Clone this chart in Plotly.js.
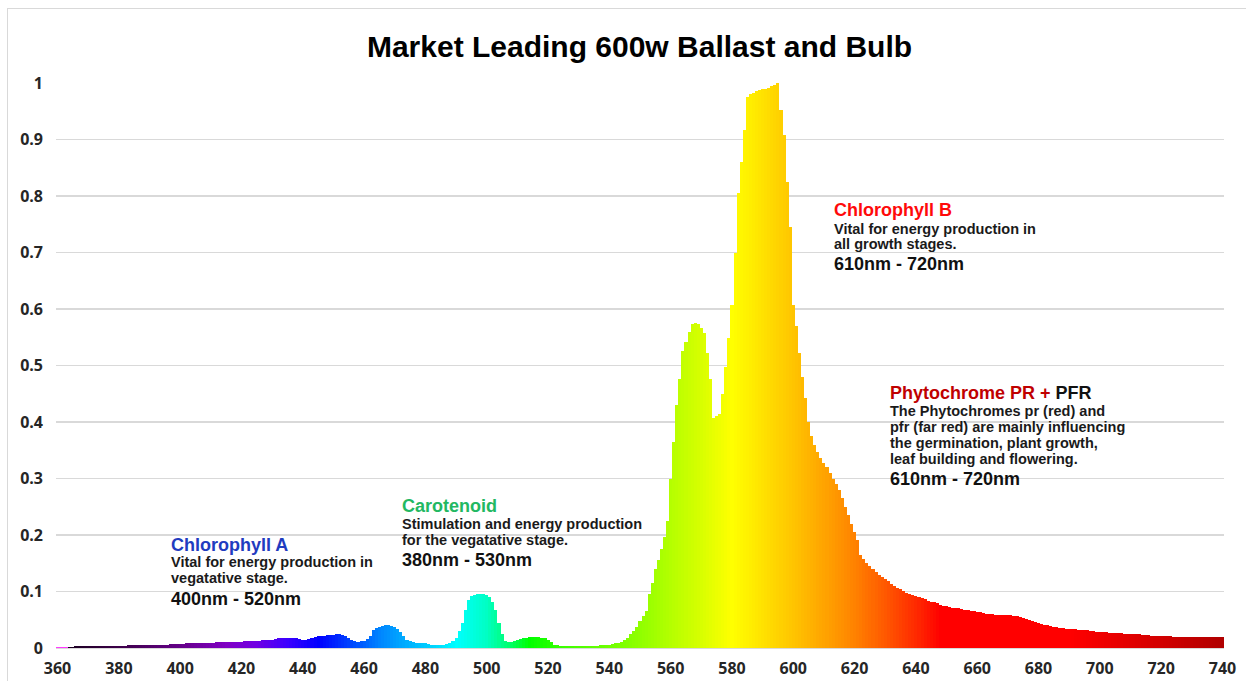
<!DOCTYPE html>
<html>
<head>
<meta charset="utf-8">
<script src="https://cdn.plot.ly/plotly-3.0.1.min.js"></script>
<style>
html,body{margin:0;padding:0;background:#fff;}
#wrap{position:relative;width:1246px;height:681px;overflow:hidden;}
#chart{width:1246px;height:681px;}
#frame{position:absolute;left:7px;top:8px;width:1250px;height:700px;border-left:1px solid #d9d9d9;border-top:1px solid #d9d9d9;pointer-events:none;}
</style>
</head>
<body>
<div id="wrap"><div id="chart"></div><div id="frame"></div></div>
<script>
// ---- DATA ----
const wavelengthStart = 360;
const wavelengthEnd = 740;
// relative intensity, one value per nm from 360 to 740
const intensity = [
  0.002,0.002,0.002,0.002,0.002,0.002,0.003,0.003,0.003,0.003, // 360
  0.003,0.003,0.003,0.003,0.004,0.004,0.004,0.004,0.004,0.004, // 370
  0.004,0.004,0.004,0.005,0.005,0.005,0.005,0.005,0.005,0.005, // 380
  0.005,0.006,0.006,0.006,0.006,0.006,0.006,0.007,0.007,0.007, // 390
  0.007,0.007,0.008,0.008,0.008,0.008,0.008,0.009,0.009,0.009, // 400
  0.009,0.009,0.010,0.010,0.010,0.010,0.010,0.011,0.011,0.011, // 410
  0.011,0.012,0.012,0.012,0.013,0.013,0.013,0.014,0.014,0.015, // 420
  0.015,0.016,0.017,0.017,0.018,0.018,0.018,0.018,0.017,0.016, // 430
  0.015,0.015,0.016,0.018,0.020,0.021,0.022,0.022,0.023,0.023, // 440
  0.023,0.024,0.024,0.023,0.021,0.018,0.014,0.012,0.011,0.012, // 450
  0.013,0.016,0.022,0.031,0.036,0.038,0.039,0.040,0.040,0.039, // 460
  0.037,0.034,0.029,0.022,0.015,0.012,0.010,0.009,0.009,0.008, // 470
  0.008,0.007,0.006,0.005,0.005,0.005,0.006,0.007,0.009,0.012, // 480
  0.018,0.030,0.045,0.068,0.085,0.092,0.094,0.095,0.095,0.095, // 490
  0.093,0.090,0.082,0.068,0.045,0.025,0.012,0.010,0.010,0.012, // 500
  0.014,0.016,0.017,0.018,0.019,0.019,0.019,0.019,0.018,0.017, // 510
  0.014,0.010,0.006,0.005,0.004,0.004,0.004,0.004,0.004,0.004, // 520
  0.004,0.004,0.004,0.004,0.004,0.004,0.004,0.005,0.005,0.006, // 530
  0.006,0.007,0.008,0.009,0.011,0.014,0.018,0.024,0.030,0.038, // 540
  0.047,0.056,0.066,0.095,0.115,0.140,0.156,0.176,0.197,0.224, // 550
  0.300,0.365,0.430,0.477,0.525,0.542,0.560,0.573,0.575,0.574, // 560
  0.566,0.557,0.522,0.477,0.407,0.410,0.415,0.450,0.497,0.548, // 570
  0.607,0.699,0.805,0.861,0.917,0.976,0.980,0.983,0.985,0.987, // 580
  0.989,0.990,0.992,0.994,0.996,1.000,0.952,0.908,0.825,0.746, // 590
  0.607,0.570,0.523,0.480,0.443,0.400,0.375,0.360,0.347,0.336, // 600
  0.328,0.320,0.310,0.300,0.290,0.280,0.265,0.250,0.235,0.220, // 610
  0.205,0.192,0.165,0.157,0.150,0.145,0.140,0.134,0.129,0.126, // 620
  0.123,0.118,0.113,0.110,0.107,0.104,0.101,0.098,0.096,0.094, // 630
  0.092,0.090,0.088,0.086,0.084,0.082,0.081,0.079,0.077,0.075, // 640
  0.074,0.072,0.071,0.070,0.070,0.069,0.068,0.067,0.066,0.065, // 650
  0.064,0.063,0.062,0.061,0.060,0.060,0.059,0.059,0.059,0.058, // 660
  0.058,0.058,0.057,0.056,0.055,0.053,0.052,0.050,0.048,0.046, // 670
  0.045,0.043,0.041,0.040,0.039,0.038,0.037,0.036,0.035,0.034, // 680
  0.034,0.033,0.033,0.032,0.032,0.031,0.031,0.030,0.030,0.029, // 690
  0.029,0.028,0.028,0.027,0.027,0.026,0.026,0.026,0.025,0.025, // 700
  0.025,0.024,0.024,0.024,0.023,0.023,0.023,0.022,0.022,0.022, // 710
  0.021,0.021,0.021,0.021,0.020,0.020,0.020,0.020,0.019,0.019, // 720
  0.019,0.019,0.019,0.019,0.019,0.019,0.019,0.019,0.019,0.019, // 730
  0.019                                                        // 740
];
const xTickVals = [360,380,400,420,440,460,480,500,520,540,560,580,600,620,640,660,680,700,720,740];
const xTickText = ['360','380','400','420','440','460','480','500','520','540','560','580','600','620','640','660','680','700','720','740'];
const yTickVals = [0,0.1,0.2,0.3,0.4,0.5,0.6,0.7,0.8,0.9,1];
const yTickText = ['0','0.1','0.2','0.3','0.4','0.5','0.6','0.7','0.8','0.9','1'];

const chartTitle = 'Market Leading 600w Ballast and Bulb';
const notesHeadings = ['Chlorophyll A', 'Carotenoid', 'Chlorophyll B', 'Phytochrome PR + <span style="color:#111111">PFR</span>'];
const notesBodies = [
  ['Vital for energy production in', 'vegatative stage.'],
  ['Stimulation and energy production', 'for the vegatative stage.'],
  ['Vital for energy production in', 'all growth stages.'],
  ['The Phytochromes pr (red) and', 'pfr (far red) are mainly influencing', 'the germination, plant growth,', 'leaf building and flowering.']
];
const notesRanges = ['400nm - 520nm', '380nm - 530nm', '610nm - 720nm', '610nm - 720nm'];

// ---- STYLE ----
const wavelengths = [];
for (let w = wavelengthStart; w <= wavelengthEnd; w++) wavelengths.push(w);

const spectrumStops = [
  [360,'#ff3cff'],[363,'#ff3cff'],[364,'#1c0022'],[380,'#3c0048'],[400,'#640088'],
  [415,'#8000c4'],[425,'#7000e4'],[435,'#3c00ff'],[445,'#0000ff'],[455,'#0040ff'],
  [465,'#0084ff'],[475,'#00b4ff'],[485,'#00e0ff'],[490,'#00ffff'],[500,'#00ffc4'],
  [507,'#00ff70'],[514,'#00ff00'],[525,'#3cff00'],[540,'#70ff00'],[550,'#90ff00'],
  [560,'#b4ff00'],[570,'#d8ff00'],[580,'#ffff00'],[590,'#ffe200'],[600,'#ffc400'],
  [610,'#ffa400'],[620,'#ff8200'],[630,'#ff5800'],[640,'#ff2a00'],[648,'#ff0000'],
  [690,'#ff0000'],[700,'#f00000'],[720,'#d20000'],[740,'#b00000']
];
const colorscale = spectrumStops.map(s => [(s[0]-wavelengthStart)/(wavelengthEnd-wavelengthStart), s[1]]);

const L = 56, R = 22, T = 83, B = 33, W = 1246, H = 681;
const plotW = W - L - R, plotH = H - T - B;
const FONT = 'Liberation Sans, Arial, sans-serif';

function ann(text, px, baseline, size, color) {
  return {
    text: text, xref: 'paper', yref: 'paper',
    x: (px - L) / plotW, y: (H - B - (baseline - 0.35 * size)) / plotH,
    xanchor: 'left', yanchor: 'middle', showarrow: false, borderpad: 0,
    font: {family: FONT, size: size, color: color, weight: 'bold'}
  };
}

const blockLayout = [
  {x: 170, head: 551, body: [567.5, 583], range: 605, color: '#1f3cc0'},
  {x: 401, head: 512.5, body: [529, 545], range: 566, color: '#22b862'},
  {x: 833, head: 216.5, body: [234, 249.5], range: 270, color: '#ff0a0a'},
  {x: 889, head: 399.5, body: [415.7, 431.7, 447.7, 464], range: 485, color: '#c00000'}
];
const annotations = [];
blockLayout.forEach((b, i) => {
  annotations.push(ann(notesHeadings[i], b.x, b.head, 18, b.color));
  notesBodies[i].forEach((line, j) => annotations.push(ann(line, b.x, b.body[j], 14.5, '#1a1a1a')));
  annotations.push(ann(notesRanges[i], b.x, b.range, 18, '#111111'));
});

const trace = {
  type: 'bar', x: wavelengths, y: intensity,
  marker: {color: wavelengths, colorscale: colorscale, cmin: wavelengthStart, cmax: wavelengthEnd, line: {width: 0}},
  showlegend: false, hoverinfo: 'x+y'
};

const layout = {
  width: W, height: H,
  margin: {l: L, r: R, t: T, b: B, pad: 0},
  paper_bgcolor: '#ffffff', plot_bgcolor: '#ffffff',
  bargap: 0,
  title: {
    text: chartTitle, xref: 'container', yref: 'container', x: 639.5 / W, xanchor: 'center',
    y: 1 - 46 / H, yanchor: 'middle',
    font: {family: FONT, size: 30, color: '#000000', weight: 'bold'}
  },
  xaxis: {
    range: [wavelengthStart - 0.5, wavelengthEnd + 0.5],
    tickmode: 'array', tickvals: xTickVals, ticktext: xTickText,
    showgrid: false, zeroline: false, showline: true, linecolor: '#d9d9d9', linewidth: 1,
    ticks: '', ticklabelstandoff: 6,
    tickfont: {family: 'Open Sans, sans-serif', size: 16, color: '#262626', weight: 'bold'},
    fixedrange: true
  },
  yaxis: {
    range: [0, 1],
    tickmode: 'array', tickvals: yTickVals, ticktext: yTickText,
    showgrid: true, gridcolor: '#d9d9d9', gridwidth: 1.5, zeroline: false, showline: false,
    ticks: '', ticklabelstandoff: 12,
    tickfont: {family: 'Open Sans, sans-serif', size: 16, color: '#262626', weight: 'bold'},
    fixedrange: true
  },
  annotations: annotations
};

Plotly.newPlot('chart', [trace], layout, {displayModeBar: false, staticPlot: true});
</script>
</body>
</html>
